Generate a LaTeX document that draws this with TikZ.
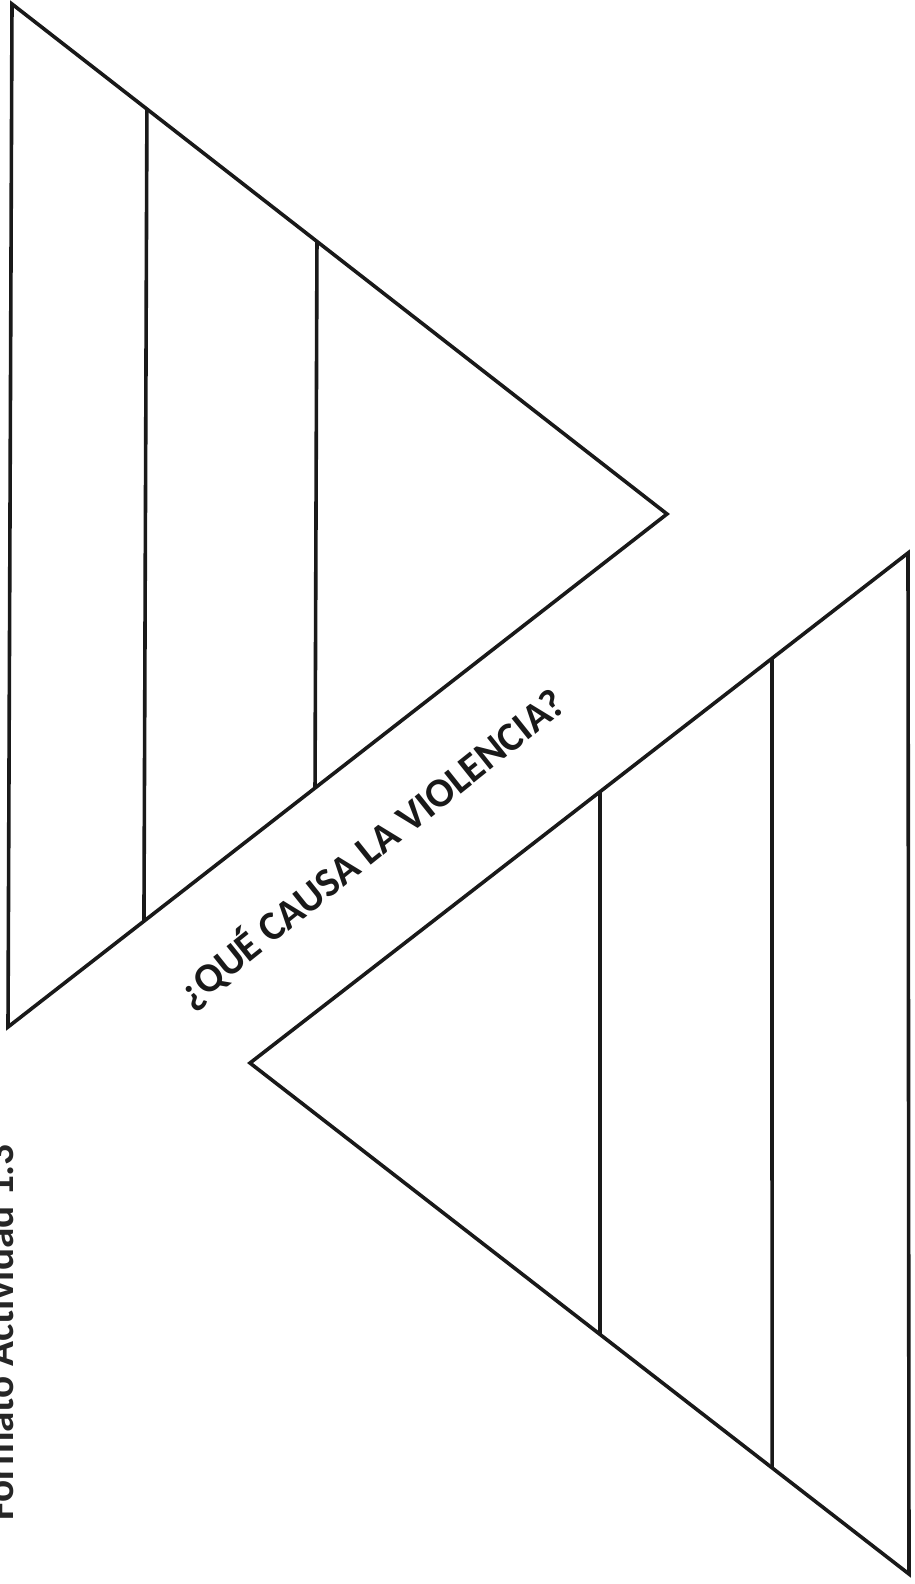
\documentclass[tikz,border=0pt]{standalone}
\usepackage{fontspec}
\setmainfont{Carlito}
\usetikzlibrary{calc}
\tikzset{
  edge/.style={line width=3.6pt, draw=black!90, line join=miter},
  question/.style={font=\fontsize{41}{44}\selectfont\bfseries, text=black!90, inner sep=0pt},
  label/.style={font=\fontsize{41.2}{44}\selectfont\bfseries, text=black!85, inner sep=0pt}
}
\begin{document}
\begin{tikzpicture}[x=1pt,y=-1pt]
\useasboundingbox (0,0) rectangle (915,1584);
% upper triangle
\coordinate (A1) at (12,4);
\coordinate (A2) at (667,514);
\coordinate (A3) at (8,1027);
\draw[edge] (A1) -- (A2) -- (A3) -- cycle;
\coordinate (u1t) at ($(A1)!0.206!(A2)$);
\coordinate (u1b) at ($(A3)!0.2063!(A2)$);
\coordinate (u2t) at ($(A1)!0.4656!(A2)$);
\coordinate (u2b) at ($(A3)!0.4659!(A2)$);
\draw[edge] (u1t) -- (u1b);
\draw[edge] (u2t) -- (u2b);
% lower triangle
\coordinate (B1) at (908,553);
\coordinate (B2) at (250,1063);
\coordinate (B3) at (909,1574);
\draw[edge] (B1) -- (B2) -- (B3) -- cycle;
\coordinate (l1t) at ($(B1)!0.2067!(B2)$);
\coordinate (l1b) at ($(B3)!0.2078!(B2)$);
\coordinate (l2t) at ($(B1)!0.4681!(B2)$);
\coordinate (l2b) at ($(B3)!0.4689!(B2)$);
\draw[edge] (l1t) -- (l1b);
\draw[edge] (l2t) -- (l2b);
% texts
\node[question, rotate=38.6] (q) at (371,848) {¿QUÉ CAUSA LA VIOLENCIA?};
\node[label, rotate=90, anchor=base west] (f) at (13,1521) {Formato Actividad 1.3};
\end{tikzpicture}
\end{document}
